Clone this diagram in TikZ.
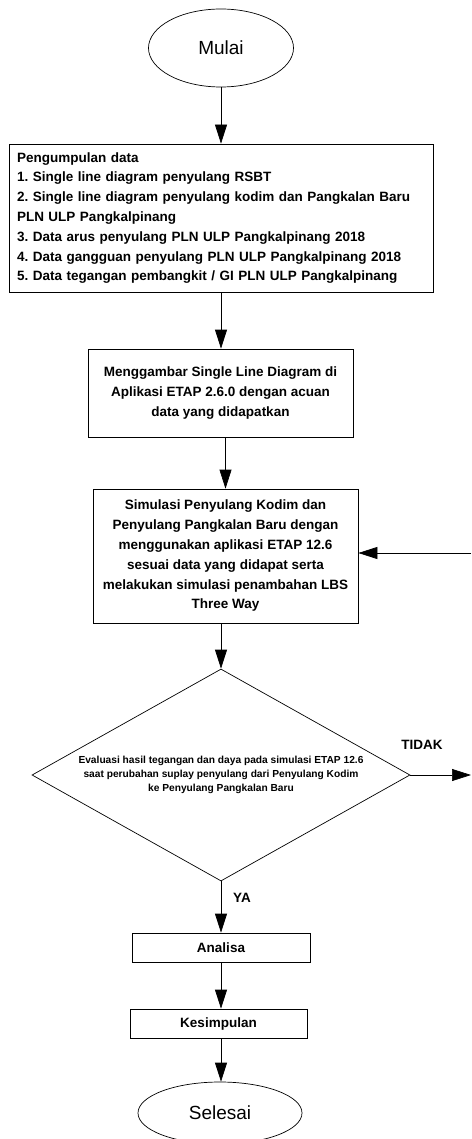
\documentclass[tikz,border=0pt]{standalone}
\usepackage{fontspec}
\setmainfont{Liberation Sans}
\usetikzlibrary{shapes.geometric,arrows.meta}
\frenchspacing

\begin{document}
\begin{tikzpicture}[x=1pt,y=-1pt,>={Triangle[length=19pt,width=12pt]},line width=.7pt,
    terminal/.style={draw,ellipse,inner sep=0pt,font=\fontsize{19}{22}\selectfont},
    proses/.style={draw,rectangle,inner sep=0pt,align=center,font=\bfseries\fontsize{13.5}{19.8}\selectfont},
    keputusan/.style={draw,diamond,aspect=1.78,inner sep=0pt,align=center,font=\bfseries\fontsize{10.2}{14.2}\selectfont},
    label/.style={font=\bfseries\fontsize{13.5}{16}\selectfont}]

    \useasboundingbox (0,0) rectangle (471,1139);

    % mulai
    \node[terminal,minimum width=145pt,minimum height=78pt] (mulai) at (221,48) {Mulai};

    % pengumpulan data
    \node[proses,align=left,text width=408pt,minimum width=424pt,minimum height=148pt] (data) at (221,218) {
        Pengumpulan data\\
        1. Single line diagram penyulang RSBT\\
        2. Single line diagram penyulang kodim dan Pangkalan Baru\\
        PLN ULP Pangkalpinang\\
        3. Data arus penyulang PLN ULP Pangkalpinang 2018\\
        4. Data gangguan penyulang PLN ULP Pangkalpinang 2018\\
        5. Data tegangan pembangkit / GI PLN ULP Pangkalpinang};

    \node[proses,minimum width=265pt,minimum height=88pt] (gambar) at (220.5,393) {
        Menggambar Single Line Diagram di\\
        Aplikasi ETAP 2.6.0 dengan acuan\\
        data yang didapatkan};

    \node[proses,minimum width=265pt,minimum height=134pt] (simulasi) at (225.5,556) {
        Simulasi Penyulang Kodim dan\\
        Penyulang Pangkalan Baru dengan\\
        menggunakan aplikasi ETAP 12.6\\
        sesuai data yang didapat serta\\
        melakukan simulasi penambahan LBS\\
        Three Way};

    % evaluasi
    \node[keputusan,minimum width=378pt,minimum height=212pt] (evaluasi) at (221,775) {
        Evaluasi hasil tegangan dan daya pada simulasi ETAP 12.6\\
        saat perubahan suplay penyulang dari Penyulang Kodim\\
        ke Penyulang Pangkalan Baru};

    \node[proses,minimum width=178pt,minimum height=29pt] (analisa) at (221,947.5) {Analisa};
    \node[proses,minimum width=177pt,minimum height=29pt] (kesimpulan) at (218.5,1023.5) {Kesimpulan};

    \node[terminal,minimum width=164pt,minimum height=62pt] (selesai) at (220,1113) {Selesai};

    \node[label] (tidak) at (422,745) {TIDAK};
    \node[label] (ya) at (242,898) {YA};

    \coordinate (keluar) at (471,775);
    \coordinate (balik) at (471,553);

    % panah
    \draw[->] (mulai) -- (data);
    \draw[->] (data) -- (data.south |- gambar.north);
    \draw[->] (simulasi.north |- gambar.south) -- (simulasi.north);
    \draw[->] (evaluasi.north |- simulasi.south) -- (evaluasi.north);
    \draw[->] (evaluasi.south) -- (evaluasi.south |- analisa.north);
    \draw[->] (analisa.south) -- (analisa.south |- kesimpulan.north);
    \draw[->] (analisa.south |- kesimpulan.south) -- (analisa.south |- selesai.north);
    \draw[->] (evaluasi.east) -- (keluar);
    \draw[->] (balik) -- (balik -| simulasi.east);

\end{tikzpicture}
\end{document}
